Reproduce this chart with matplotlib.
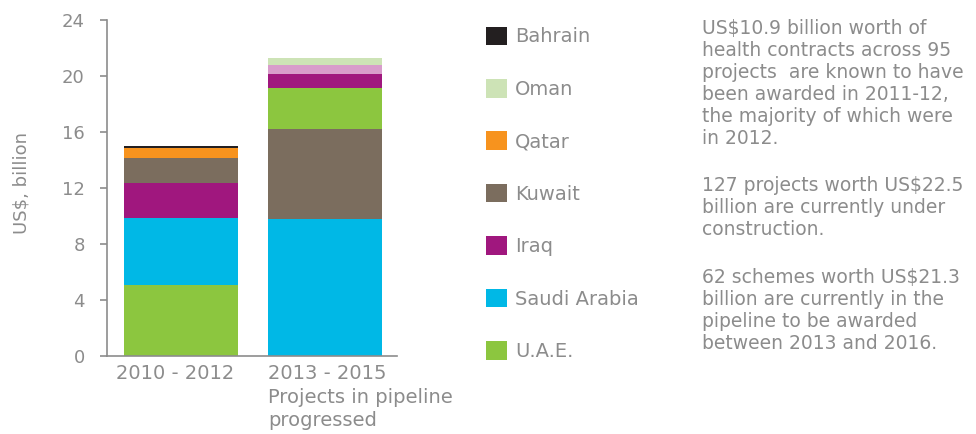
#!/usr/bin/env python3

import numpy as np
import matplotlib
matplotlib.use('Agg')
import matplotlib.pyplot as plt
from matplotlib.patches import Patch

# periods on the x axis
periods = ['2010 - 2012', '2013 - 2015\nProjects in pipeline\nprogressed']

# stacking order differs per bar (bottom to top), values in US$ billion
stack_2010 = ['U.A.E.', 'Saudi Arabia', 'Iraq', 'Kuwait', 'Qatar', 'Bahrain']
vals_2010 = [5.1, 4.75, 2.5, 1.78, 0.7, 0.17]

stack_2013 = ['Saudi Arabia', 'Kuwait', 'U.A.E.', 'Iraq', 'Other', 'Oman']
vals_2013 = [9.78, 6.45, 2.9, 1.0, 0.67, 0.5]

legend_order = ['Bahrain', 'Oman', 'Qatar', 'Kuwait', 'Iraq', 'Saudi Arabia', 'U.A.E.']

colors = {
    'Bahrain': '#231f20',
    'Oman': '#cde3b6',
    'Qatar': '#f7931e',
    'Kuwait': '#7b6d5e',
    'Iraq': '#a0177e',
    'Saudi Arabia': '#00b8e6',
    'U.A.E.': '#8cc63f',
    'Other': '#d89ccb',
}

notes = [
    'US$10.9 billion worth of\nhealth contracts across 95\nprojects  are known to have\n'
    'been awarded in 2011-12,\nthe majority of which were\nin 2012.',
    '127 projects worth US$22.5\nbillion are currently under\nconstruction.',
    '62 schemes worth US$21.3\nbillion are currently in the\npipeline to be awarded\n'
    'between 2013 and 2016.',
]

GREY = '#8c8c8c'
plt.rcParams['font.family'] = 'DejaVu Sans'

fig = plt.figure(figsize=(9.76, 4.34), dpi=100)
W, H = 976, 434
ax = fig.add_axes([107 / W, 1 - 356 / H, 290 / W, 336 / H])

x = np.arange(len(periods))
bar_w = 0.79
for xi, (names, vals) in zip(x, [(stack_2010, vals_2010), (stack_2013, vals_2013)]):
    bottom = 0.0
    for name, v in zip(names, vals):
        ax.bar(xi, v, bottom=bottom, width=bar_w, color=colors[name], linewidth=0)
        bottom += v

ax.set_ylim(0, 24)
ax.set_xlim(-0.514, 1.5)
ax.set_yticks(np.arange(0, 25, 4))
ax.set_xticks([])
ax.tick_params(axis='y', length=5, width=1.2, color=GREY, labelcolor=GREY,
               labelsize=13, pad=11)
for side in ['top', 'right']:
    ax.spines[side].set_visible(False)
for side in ['left', 'bottom']:
    ax.spines[side].set_color(GREY)
    ax.spines[side].set_linewidth(1.2)

# category labels under the bars
trans = ax.get_xaxis_transform()
ax.text(x[0] - 0.04, -0.025, periods[0], transform=trans, ha='center', va='top',
        fontsize=14, color=GREY)
ax.text(x[1] - bar_w / 2, -0.025, periods[1], transform=trans, ha='left', va='top',
        fontsize=14, color=GREY, linespacing=1.3)

fig.text(22 / W, 1 - 183 / H, 'US$, billion', rotation=90, ha='center', va='center',
         fontsize=13, color=GREY)

handles = [Patch(facecolor=colors[n], edgecolor='none') for n in legend_order]
leg = fig.legend(handles, legend_order, loc='upper left',
                 bbox_to_anchor=(486 / W, 1 - 26.5 / H), frameon=False, fontsize=14,
                 handlelength=1.1, handleheight=1.1, labelspacing=1.67,
                 handletextpad=0.4, borderpad=0, borderaxespad=0)
for t in leg.get_texts():
    t.set_color(GREY)

tops = [19, 176, 268]
for txt, top in zip(notes, tops):
    fig.text(702 / W, 1 - top / H, txt, ha='left', va='top', fontsize=13.5,
             color=GREY, linespacing=1.2)

fig.savefig('out.png', dpi=100)
